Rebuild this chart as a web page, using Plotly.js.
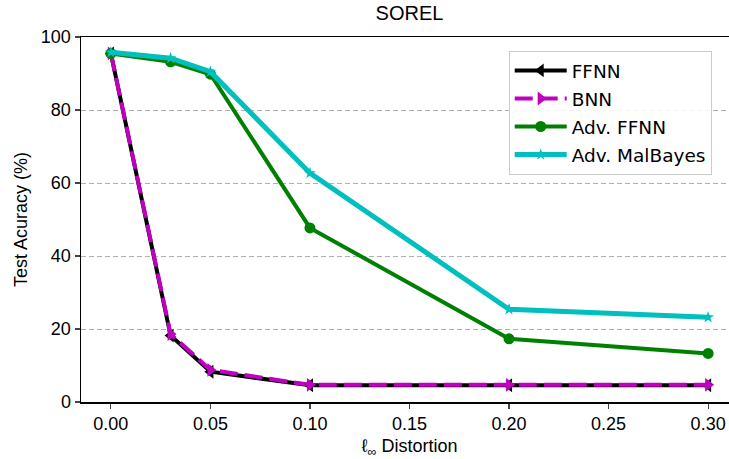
<!DOCTYPE html>
<html><head><meta charset="utf-8">
<script src="https://cdn.plot.ly/plotly-3.0.1.min.js"></script>
<style>html,body{margin:0;padding:0;overflow:hidden;background:#fff}</style>
</head><body><div id="chart"></div>
<script>
const distortion = [0.0, 0.03, 0.05, 0.10, 0.20, 0.30];
const ffnn = [95.5, 18.2, 8.3, 4.6, 4.6, 4.6];
const bnn = [95.5, 18.6, 8.8, 4.7, 4.7, 4.7];
const advFfnn = [95.5, 93.2, 89.8, 47.7, 17.3, 13.3];
const advMalBayes = [95.8, 94.2, 90.5, 62.7, 25.4, 23.2];
const seriesNames = ['FFNN', 'BNN', 'Adv. FFNN', 'Adv. MalBayes'];
const xTicks = [0, 0.05, 0.10, 0.15, 0.20, 0.25, 0.30];
const xTickText = ['0.00','0.05','0.10','0.15','0.20','0.25','0.30'];
const yTicks = [0, 20, 40, 60, 80, 100];

const traces = [
  {x: distortion, y: ffnn, name: seriesNames[0], legendgroup: 'g1', mode: 'lines+markers',
   line: {color: '#000000', width: 4}, marker: {symbol: 'triangle-left', size: 12, color: '#000000'}},
  {x: distortion, y: bnn, name: seriesNames[1], legendgroup: 'g2', mode: 'lines+markers',
   line: {color: '#bf00bf', width: 4, dash: '18px,7px'}, marker: {symbol: 'triangle-right', size: 12, color: '#bf00bf'}},
  {x: distortion, y: advFfnn, name: seriesNames[2], legendgroup: 'g3', mode: 'lines+markers',
   line: {color: '#008000', width: 4}, marker: {symbol: 'circle', size: 11, color: '#008000'}},
  {x: distortion, y: advMalBayes, name: seriesNames[3], legendgroup: 'g4', mode: 'lines+markers',
   line: {color: '#00bfbf', width: 5}, marker: {symbol: 'star', size: 9, color: '#00bfbf'}}
];

const font = 'Liberation Sans, Arial, sans-serif';
const layout = {
  width: 740, height: 459,
  margin: {l: 81, r: 2, t: 37, b: 57},
  paper_bgcolor: '#fff', plot_bgcolor: '#fff',
  font: {family: font, size: 18, color: '#000'},
  title: {text: 'SOREL', font: {family: font, size: 20, color: '#000'}, x: 0.5, xref: 'paper', y: 1, yref: 'container', yanchor: 'top', pad: {t: 6}},
  xaxis: {range: [-0.015, 0.315], tickvals: xTicks, ticktext: xTickText, ticks: 'outside', ticklen: 5, tickwidth: 1.2,
    showgrid: false, zeroline: false, showline: true, linecolor: '#000', linewidth: 1.5, mirror: true,
    tickfont: {family: font, size: 18}, title: {text: 'ℓ<sub>∞</sub> Distortion', font: {family: font, size: 18}, standoff: 6}},
  yaxis: {range: [0, 100], tickvals: yTicks, ticks: 'outside', ticklen: 5, tickwidth: 1.2,
    showgrid: true, gridcolor: '#b0b0b0', griddash: '5px,3px', gridwidth: 1, zeroline: false,
    showline: true, linecolor: '#000', linewidth: 1.5, mirror: true,
    tickfont: {family: font, size: 18}, title: {text: 'Test Acuracy (%)', font: {family: font, size: 18}, standoff: 8}},
  legend: {x: 0.651, y: 0.962, xanchor: 'left', yanchor: 'top', bgcolor: 'rgba(255,255,255,0.85)',
    bordercolor: '#cccccc', borderwidth: 1, font: {family: 'DejaVu Sans, sans-serif', size: 18.5, color: '#000'},
    tracegroupgap: 1, itemwidth: 52},
  showlegend: true
};
Plotly.newPlot('chart', traces, layout, {displayModeBar: false, staticPlot: true});
</script></body></html>
